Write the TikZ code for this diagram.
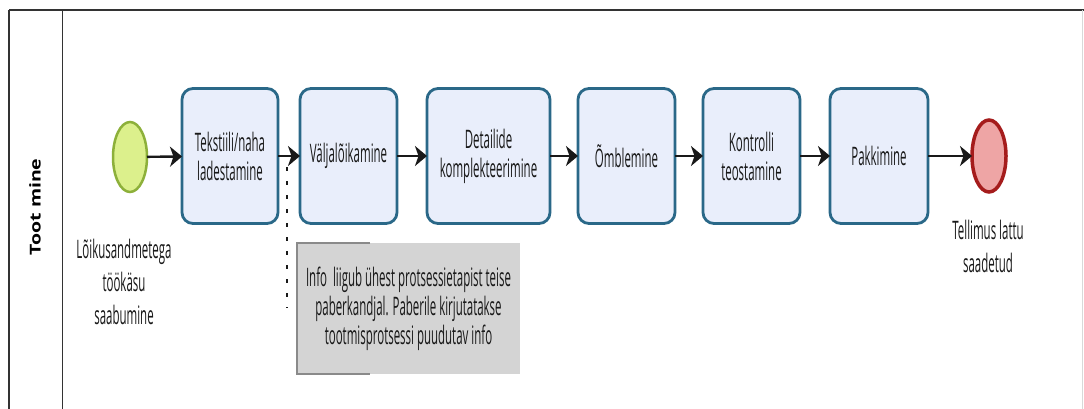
\documentclass[tikz,border=0pt]{standalone}
\usepackage{fontspec}
\usetikzlibrary{arrows.meta,shapes.geometric}
\newfontfamily\lblfont[FakeStretch=0.45]{Open Sans}
\newfontfamily\lanefont[FakeStretch=1.3]{Open Sans}
\definecolor{taskfill}{HTML}{E9EEFB}
\definecolor{taskline}{HTML}{2A6888}
\definecolor{startfill}{HTML}{DCF08C}
\definecolor{startline}{HTML}{8DB03A}
\definecolor{endfill}{HTML}{EEA5A5}
\definecolor{endline}{HTML}{A51C1C}
\definecolor{notefill}{HTML}{D4D4D4}
\definecolor{noteline}{HTML}{8A8A8A}
\definecolor{poolline}{HTML}{333333}
\tikzset{
  every node/.style={inner sep=0pt, outer sep=0pt},
  txt/.style={font=\lblfont\fontsize{25.5}{29}\selectfont, align=center, text=black!90},
  taskbox/.style={draw=taskline, fill=taskfill, line width=2.8pt, rounded corners=11pt,
    minimum height=135pt, txt},
  startev/.style={ellipse, draw=startline, fill=startfill, line width=2.5pt,
    minimum width=34pt, minimum height=70pt},
  endev/.style={ellipse, draw=endline, fill=endfill, line width=3.5pt,
    minimum width=34pt, minimum height=72pt},
  flow/.style={line width=2.4pt, draw=black!90,
    -{Stealth[length=12pt, width=20pt, inset=3.5pt]}},
  assoc/.style={line width=2.6pt, draw=black!90, dash pattern=on 3.5pt off 10.5pt},
  evlabel/.style={font=\lblfont\fontsize{25.5}{33}\selectfont, align=center, text=black!90},
}
\begin{document}
\begin{tikzpicture}[x=1pt, y=-1pt]
\useasboundingbox (0,0) rectangle (1084,409);
\fill[white] (0,0) rectangle (1084,409);

% pool and lane frame
\draw[poolline, line width=2.2pt] (9,10) -- (1084,10);
\draw[poolline, line width=1.5pt] (9,10) -- (9,409);
\draw[poolline, line width=1pt] (62,10) -- (62,409);
\draw[black!15, line width=1pt] (1082,10) -- (1082,409);
\node[rotate=90, font=\lanefont\bfseries\fontsize{15}{15}\selectfont] (lane) at (35,207) {Toot mine};

% events
\node[startev] (start) at (130,157) {};
\node[endev] (end) at (989,156) {};
\node[evlabel] (startlbl) at (124,282) {Lõikusandmetega\\töökäsu\\saabumine};
\node[evlabel] (endlbl) at (988,246) {Tellimus lattu\\saadetud};

% tasks
\node[taskbox, minimum width=96pt] (t1) at (230,156) {Tekstiili/naha\\ladestamine};
\node[taskbox, minimum width=97pt] (t2) at (348.5,156) {Väljalõikamine};
\node[taskbox, minimum width=123pt] (t3) at (488.5,156) {Detailide\\komplekteerimine};
\node[taskbox, minimum width=97pt] (t4) at (626.5,156) {Õmblemine};
\node[taskbox, minimum width=97pt] (t5) at (751.5,156) {Kontrolli\\teostamine};
\node[taskbox, minimum width=98pt] (t6) at (879,156) {Pakkimine};

% sequence flows
\draw[flow] (start) -- (t1);
\draw[flow] (t1) -- (t2);
\draw[flow] (t2) -- (t3);
\draw[flow] (t3) -- (t4);
\draw[flow] (t4) -- (t5);
\draw[flow] (t5) -- (t6);
\draw[flow] (t6) -- (end);

% text annotation
\node[fill=notefill, minimum width=223pt, minimum height=131pt, txt] (note) at (408.5,308.5)
  {Info\ \ liigub ühest protsessietapist teise\\paberkandjal. Paberile kirjutatakse\\tootmisprotsessi puudutav info};
\draw[noteline, line width=1.5pt] ([xshift=73pt]note.north west) -- (note.north west)
  -- (note.south west) -- ([xshift=73pt]note.south west);

% association
\coordinate (assocA) at (287,167);
\coordinate (assocB) at (287,308);
\draw[assoc] (assocA) -- (assocB);
\end{tikzpicture}
\end{document}
